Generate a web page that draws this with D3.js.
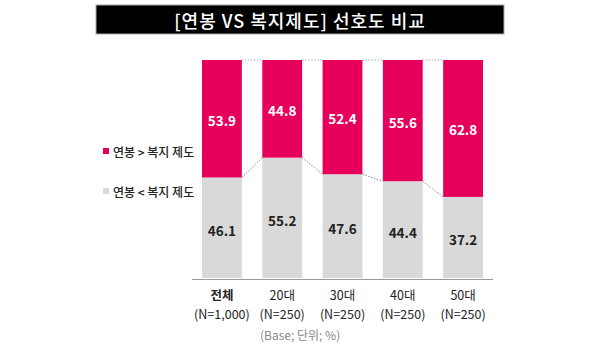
<!DOCTYPE html>
<html>
<head>
<meta charset="utf-8">
<script src="https://cdn.jsdelivr.net/npm/d3@7"></script>
<style>
  body { margin: 0; background: #fff; }
  text { font-family: "Noto Sans CJK KR", "Noto Sans", sans-serif; }
</style>
</head>
<body>
<div id="chart"></div>
<script>
// data
let categories = ["전체", "20대", "30대", "40대", "50대"];
let sampleLabels = ["(N=1,000)", "(N=250)", "(N=250)", "(N=250)", "(N=250)"];
let salaryMore = [53.9, 44.8, 52.4, 55.6, 62.8];   // 연봉 > 복지 제도
let welfareMore = [46.1, 55.2, 47.6, 44.4, 37.2];  // 연봉 < 복지 제도
let legendLabels = ["연봉 > 복지 제도", "연봉 < 복지 제도"];

let width = 600, height = 354;
let pink = "#e6005c", grey = "#d9d9d9";

let svg = d3.select("#chart").append("svg")
    .attr("width", width)
    .attr("height", height);

// title bar
svg.append("rect")
    .attr("x", 96).attr("y", 5)
    .attr("width", 408).attr("height", 29)
    .attr("fill", "#000")
    .attr("stroke", "#aaa").attr("stroke-width", 1);
svg.append("text")
    .attr("x", 300).attr("y", 20)
    .attr("text-anchor", "middle")
    .attr("dominant-baseline", "central")
    .attr("fill", "#fff")
    .attr("font-size", 18)
    .attr("font-weight", 500)
    .attr("letter-spacing", 1)
    .text("[연봉 VS 복지제도] 선호도 비교");

let x = d3.scaleBand().domain(categories).range([202, 483]).paddingInner(0.339).paddingOuter(0),
    y = d3.scaleLinear().domain([0, 100]).range([278, 60]);

let bw = x.bandwidth();

// dotted connectors
for (let i = 0; i < categories.length - 1; i++) {
    svg.append("line")
        .attr("x1", x(categories[i]) + bw).attr("x2", x(categories[i + 1]))
        .attr("y1", y(100)).attr("y2", y(100))
        .attr("stroke", "#aaa").attr("stroke-dasharray", "1.5,1.5");
    svg.append("line")
        .attr("x1", x(categories[i]) + bw).attr("x2", x(categories[i + 1]))
        .attr("y1", y(welfareMore[i])).attr("y2", y(welfareMore[i + 1]))
        .attr("stroke", "#888").attr("stroke-dasharray", "1.5,1.5");
}

// grey (bottom) segments
svg.selectAll(".bar-grey")
    .data(categories)
    .enter().append("rect")
    .attr("class", "bar-grey")
    .attr("x", d => x(d))
    .attr("width", bw)
    .attr("y", (d, i) => y(welfareMore[i]))
    .attr("height", (d, i) => y(0) - y(welfareMore[i]))
    .attr("fill", grey);

// pink (top) segments
svg.selectAll(".bar-pink")
    .data(categories)
    .enter().append("rect")
    .attr("class", "bar-pink")
    .attr("x", d => x(d))
    .attr("width", bw)
    .attr("y", y(100))
    .attr("height", (d, i) => y(welfareMore[i]) - y(100))
    .attr("fill", pink);

// value labels
svg.selectAll(".lbl-pink")
    .data(categories)
    .enter().append("text")
    .attr("x", d => x(d) + bw / 2)
    .attr("y", (d, i) => (y(100) + y(welfareMore[i])) / 2 + 1)
    .attr("text-anchor", "middle")
    .attr("dominant-baseline", "central")
    .attr("fill", "#fff")
    .attr("font-size", 13.5)
    .attr("font-weight", "bold")
    .text((d, i) => salaryMore[i].toFixed(1));

svg.selectAll(".lbl-grey")
    .data(categories)
    .enter().append("text")
    .attr("x", d => x(d) + bw / 2)
    .attr("y", (d, i) => (y(0) + y(welfareMore[i])) / 2 + 2)
    .attr("text-anchor", "middle")
    .attr("dominant-baseline", "central")
    .attr("fill", "#222")
    .attr("font-size", 13.5)
    .attr("font-weight", "bold")
    .text((d, i) => welfareMore[i].toFixed(1));

// baseline
svg.append("line")
    .attr("x1", 192).attr("x2", 493)
    .attr("y1", 279.5).attr("y2", 279.5)
    .attr("stroke", "#999").attr("stroke-width", 1);

// category labels
svg.selectAll(".cat")
    .data(categories)
    .enter().append("text")
    .attr("x", d => x(d) + bw / 2)
    .attr("y", 294)
    .attr("text-anchor", "middle")
    .attr("dominant-baseline", "central")
    .attr("fill", "#222")
    .attr("font-size", 12.5)
    .attr("font-weight", (d, i) => i === 0 ? "bold" : "normal")
    .text(d => d);

svg.selectAll(".n")
    .data(categories)
    .enter().append("text")
    .attr("x", d => x(d) + bw / 2)
    .attr("y", 313)
    .attr("text-anchor", "middle")
    .attr("dominant-baseline", "central")
    .attr("fill", "#222")
    .attr("font-size", 12.5)
    .text((d, i) => sampleLabels[i]);

// footnote
svg.append("text")
    .attr("x", 260).attr("y", 334)
    .attr("dominant-baseline", "central")
    .attr("fill", "#888")
    .attr("font-size", 12)
    .text("(Base; 단위; %)");

// legend
let legend = svg.selectAll(".legend")
    .data(legendLabels)
    .enter().append("g")
    .attr("transform", (d, i) => "translate(103," + (151 + i * 40) + ")");

legend.append("rect")
    .attr("x", 0).attr("y", -3)
    .attr("width", 6).attr("height", 6)
    .attr("fill", (d, i) => i === 0 ? pink : grey);

legend.append("text")
    .attr("x", 10).attr("y", 0)
    .attr("dominant-baseline", "central")
    .attr("fill", "#222")
    .attr("font-size", 12)
    .attr("font-weight", 500)
    .text(d => d);
</script>
</body>
</html>
